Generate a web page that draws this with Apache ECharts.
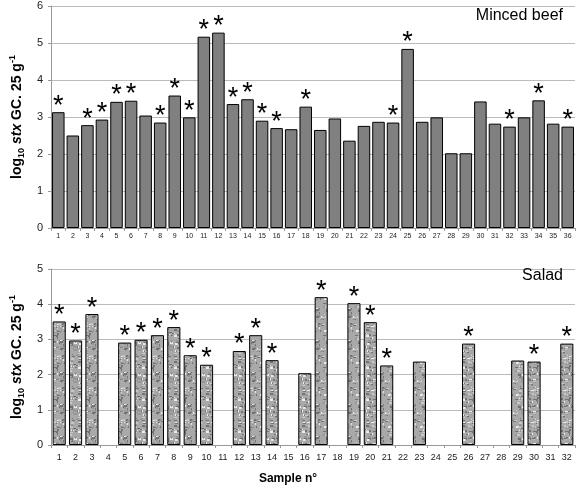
<!DOCTYPE html>
<html><head><meta charset="utf-8">
<script src="https://cdn.jsdelivr.net/npm/echarts@6/dist/echarts.min.js"></script>
<style>html,body{margin:0;padding:0;background:#fff}#c{width:576px;height:487px}</style>
</head><body><div id="c"></div>
<script>
// ---- data ----
const beefSamples = ['1','2','3','4','5','6','7','8','9','10','11','12','13','14','15','16','17','18','19','20','21','22','23','24','25','26','27','28','29','30','31','32','33','34','35','36'];
const beefValues = [3.13,2.50,2.78,2.93,3.41,3.44,3.04,2.85,3.58,2.99,5.17,5.28,3.35,3.48,2.90,2.70,2.67,3.28,2.65,2.96,2.36,2.76,2.87,2.85,4.84,2.87,2.99,2.02,2.02,3.42,2.82,2.74,2.99,3.45,2.82,2.74];
const beefStar = [1,0,1,1,1,1,0,1,1,1,1,1,1,1,1,1,0,1,0,0,0,0,0,1,1,0,0,0,0,0,0,1,0,1,0,1];

const saladSamples = ['1','2','3','4','5','6','7','8','9','10','11','12','13','14','15','16','17','18','19','20','21','22','23','24','25','26','27','28','29','30','31','32'];
const saladValues = [3.51,2.97,3.72,null,2.91,2.99,3.12,3.35,2.55,2.28,null,2.67,3.12,2.41,null,2.04,4.20,null,4.03,3.49,2.26,null,2.37,null,null,2.88,null,null,2.40,2.37,null,2.88];
const saladStar = [1,1,1,0,1,1,1,1,1,1,0,1,1,1,0,0,1,0,1,1,1,0,0,0,0,1,0,0,0,1,0,1];

const beefTicks = [0,1,2,3,4,5,6];
const saladTicks = [0,1,2,3,4,5];

// ---- texture pattern for salad bars (deterministic, style only) ----
function makePattern(){
  const n = 32;
  const c = document.createElement('canvas'); c.width = n; c.height = n;
  const g = c.getContext('2d');
  let s = 12345;
  function rnd(){ s = (s * 1103515245 + 12345) & 0x7fffffff; return s / 0x7fffffff; }
  g.fillStyle = '#a9a9a9'; g.fillRect(0, 0, n, n);
  for (let k = 0; k < 140; k++) {
    const x = Math.floor(rnd() * n), y = Math.floor(rnd() * n);
    const w = 1 + Math.floor(rnd() * 3), h = 1 + Math.floor(rnd() * 2);
    const r = rnd();
    const v = r < 0.35 ? 115 : r < 0.6 ? 150 : r < 0.85 ? 200 : 235;
    g.fillStyle = 'rgb(' + v + ',' + v + ',' + v + ')';
    g.fillRect(x, y, w, h);
  }
  return c;
}
const pattern = { image: makePattern(), repeat: 'repeat' };

const FONT = 'Liberation Sans';
const nameRich = {
  b: { fontFamily: FONT, fontWeight: 'bold', fontSize: 14, color: '#000', lineHeight: 18 },
  i: { fontFamily: FONT, fontWeight: 'bold', fontStyle: 'italic', fontSize: 14, color: '#000', lineHeight: 18 },
  sub: { fontFamily: FONT, fontWeight: 'bold', fontSize: 9, color: '#000', verticalAlign: 'bottom', lineHeight: 18, padding: [7, 0, 0, 0] },
  sup: { fontFamily: FONT, fontWeight: 'bold', fontSize: 9, color: '#000', verticalAlign: 'top', lineHeight: 18, padding: [0, 0, 7, 0] }
};
const yName = '{b|log}{sub|10}{b| }{i|stx}{b| GC. 25 g}{sup|-1}';

function mkData(vals, stars){
  return vals.map((v, i) => ({ value: v, label: { show: !!stars[i] && v != null } }));
}

const chart = echarts.init(document.getElementById('c'), null, { renderer: 'canvas' });
const starLabel = { position: 'top', distance: -3, formatter: '*', fontFamily: FONT, fontSize: 27, color: '#000', lineHeight: 18 };

chart.setOption({
  backgroundColor: '#fff',
  animation: false,
  title: [
    { text: 'Minced beef', right: 8, top: 3, textStyle: { fontFamily: FONT, fontWeight: 'normal', fontSize: 16, color: '#000' } },
    { text: 'Salad', right: 8, top: 263, textStyle: { fontFamily: FONT, fontWeight: 'normal', fontSize: 16, color: '#000' } },
    { text: 'Sample n°', left: 'center', top: 468, textStyle: { fontFamily: FONT, fontWeight: 'bold', fontSize: 12, color: '#000' } }
  ],
  grid: [
    { left: 39, right: 1, top: 6, height: 222 },
    { left: 39, right: 1, top: 269, height: 176 }
  ],
  xAxis: [
    { gridIndex: 0, type: 'category', data: beefSamples,
      axisLine: { lineStyle: { color: '#999' } },
      axisTick: { show: true, length: 3, lineStyle: { color: '#999' } },
      axisLabel: { fontFamily: FONT, fontSize: 7, color: '#222', margin: 5, interval: 0 } },
    { gridIndex: 1, type: 'category', data: saladSamples,
      axisLine: { lineStyle: { color: '#999' } },
      axisTick: { show: true, length: 3, lineStyle: { color: '#999' } },
      axisLabel: { fontFamily: FONT, fontSize: 9, color: '#222', margin: 8, interval: 0 } }
  ],
  yAxis: [
    { gridIndex: 0, type: 'value', min: beefTicks[0], max: beefTicks[beefTicks.length - 1], interval: 1,
      name: yName, nameLocation: 'middle', nameRotate: 90, nameGap: 20, nameTextStyle: { rich: nameRich },
      axisLine: { show: true, lineStyle: { color: '#999' } },
      axisTick: { show: true, length: 3, lineStyle: { color: '#999' } },
      splitLine: { lineStyle: { color: '#bbb' } },
      axisLabel: { fontFamily: FONT, fontSize: 11, color: '#222', margin: 8 } },
    { gridIndex: 1, type: 'value', min: saladTicks[0], max: saladTicks[saladTicks.length - 1], interval: 1,
      name: yName, nameLocation: 'middle', nameRotate: 90, nameGap: 20, nameTextStyle: { rich: nameRich },
      axisLine: { show: true, lineStyle: { color: '#999' } },
      axisTick: { show: true, length: 3, lineStyle: { color: '#999' } },
      splitLine: { lineStyle: { color: '#bbb' } },
      axisLabel: { fontFamily: FONT, fontSize: 11, color: '#222', margin: 8 } }
  ],
  series: [
    { type: 'bar', xAxisIndex: 0, yAxisIndex: 0, data: mkData(beefValues, beefStar),
      barCategoryGap: '14%',
      itemStyle: { color: '#808080', borderColor: '#000', borderWidth: 1 },
      label: starLabel },
    { type: 'bar', xAxisIndex: 1, yAxisIndex: 1, data: mkData(saladValues, saladStar),
      barCategoryGap: '20%',
      itemStyle: { color: pattern, borderColor: '#000', borderWidth: 1 },
      label: starLabel }
  ]
});
</script>
</body></html>
